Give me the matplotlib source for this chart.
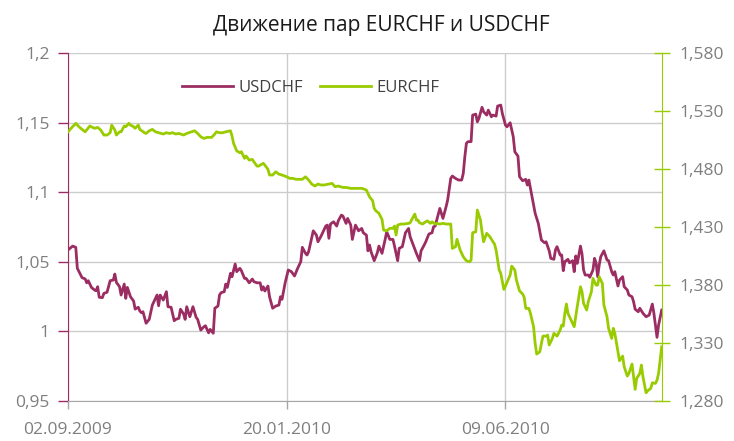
import numpy as np
import pandas as pd
import matplotlib
matplotlib.use("Agg")
import matplotlib.pyplot as plt
import matplotlib.dates as mdates
from matplotlib.ticker import FuncFormatter, FixedLocator

plt.rcParams['font.family'] = ['Open Sans', 'DejaVu Sans']

# Начало ряда и подписи дат на оси X
start_date = "2009-09-02"
end_day = 380
tick_days = [0, 140, 280]

# USDCHF (левая ось): дни от 02.09.2009 и значения
usd_days = [0, 3, 5, 6, 9, 11, 12, 13, 15, 17, 18, 19, 20, 22, 23, 25, 27, 29, 30, 31,
            33, 34, 36, 37, 38, 40, 42, 43, 45, 46, 47, 48, 50, 52, 54, 56, 57, 58, 59, 61,
            63, 64, 66, 68, 69, 71, 72, 74, 75, 76, 78, 80, 82, 83, 85, 87, 88, 90, 91, 93,
            94, 96, 97, 98, 100, 101, 102, 104, 105, 107, 108, 110, 111, 113, 114, 116, 118, 119, 121, 123,
            124, 125, 126, 128, 129, 131, 133, 135, 136, 137, 139, 141, 143, 145, 147, 149, 150, 152, 153, 154,
            157, 159, 160, 162, 165, 166, 167, 168, 170, 172, 173, 175, 176, 178, 179, 181, 182, 184, 186, 188,
            189, 191, 192, 193, 194, 196, 198, 199, 201, 203, 204, 206, 208, 209, 211, 212, 214, 216, 218, 219,
            221, 223, 225, 226, 228, 229, 231, 233, 234, 235, 236, 238, 240, 242, 243, 245, 246, 248, 250, 252,
            253, 254, 255, 256, 258, 259, 261, 262, 263, 265, 266, 268, 269, 271, 272, 274, 275, 277, 278, 280,
            281, 283, 285, 286, 288, 289, 291, 293, 294, 295, 297, 299, 301, 303, 305, 306, 308, 309, 311, 312,
            313, 315, 316, 317, 318, 320, 321, 323, 324, 325, 326, 328, 329, 330, 331, 333, 334, 336, 337, 338,
            339, 340, 341, 343, 345, 346, 348, 349, 350, 352, 353, 355, 356, 358, 359, 361, 362, 363, 365, 366,
            368, 370, 372, 374, 375, 377, 378, 380]
usd_vals = [1.0586, 1.0614, 1.0605, 1.0454, 1.0387, 1.0378, 1.0350, 1.0365, 1.0317, 1.0298,
            1.0293, 1.0322, 1.0246, 1.0243, 1.0274, 1.0282, 1.0365, 1.0370, 1.0413, 1.0353,
            1.0322, 1.0262, 1.0341, 1.0238, 1.0317, 1.0250, 1.0219, 1.0161, 1.0174, 1.0147,
            1.0135, 1.0142, 1.0059, 1.0087, 1.0190, 1.0238, 1.0262, 1.0185, 1.0262, 1.0226,
            1.0286, 1.0178, 1.0174, 1.0077, 1.0087, 1.0095, 1.0160, 1.0126, 1.0087, 1.0178,
            1.0106, 1.0178, 1.0102, 1.0087, 1.0010, 1.0034, 1.0041, 0.9990, 1.0015, 0.9987,
            1.0167, 1.0183, 1.0262, 1.0279, 1.0286, 1.0341, 1.0317, 1.0418, 1.0394, 1.0485,
            1.0430, 1.0454, 1.0437, 1.0382, 1.0382, 1.0350, 1.0377, 1.0358, 1.0350, 1.0350,
            1.0298, 1.0322, 1.0291, 1.0327, 1.0250, 1.0167, 1.0183, 1.0190, 1.0250, 1.0231,
            1.0350, 1.0442, 1.0430, 1.0399, 1.0454, 1.0502, 1.0605, 1.0562, 1.0550, 1.0573,
            1.0724, 1.0693, 1.0645, 1.0686, 1.0758, 1.0765, 1.0670, 1.0772, 1.0789, 1.0758,
            1.0796, 1.0837, 1.0830, 1.0777, 1.0813, 1.0765, 1.0662, 1.0765, 1.0724, 1.0741,
            1.0710, 1.0693, 1.0580, 1.0622, 1.0573, 1.0509, 1.0566, 1.0614, 1.0562, 1.0662,
            1.0717, 1.0662, 1.0662, 1.0614, 1.0509, 1.0598, 1.0610, 1.0710, 1.0741, 1.0681,
            1.0622, 1.0562, 1.0509, 1.0580, 1.0622, 1.0645, 1.0701, 1.0710, 1.0753, 1.0758,
            1.0801, 1.0885, 1.0813, 1.0897, 1.0945, 1.1101, 1.1118, 1.1101, 1.1089, 1.1089,
            1.1137, 1.1257, 1.1353, 1.1365, 1.1365, 1.1556, 1.1563, 1.1508, 1.1532, 1.1612,
            1.1580, 1.1556, 1.1592, 1.1544, 1.1556, 1.1549, 1.1621, 1.1628, 1.1568, 1.1484,
            1.1472, 1.1501, 1.1400, 1.1292, 1.1261, 1.1113, 1.1084, 1.1094, 1.1053, 1.1089,
            1.0969, 1.0850, 1.0778, 1.0658, 1.0638, 1.0645, 1.0580, 1.0526, 1.0519, 1.0586,
            1.0610, 1.0550, 1.0550, 1.0437, 1.0502, 1.0519, 1.0494, 1.0509, 1.0430, 1.0543,
            1.0490, 1.0614, 1.0557, 1.0442, 1.0406, 1.0406, 1.0390, 1.0442, 1.0526, 1.0494,
            1.0394, 1.0478, 1.0538, 1.0580, 1.0514, 1.0509, 1.0430, 1.0406, 1.0430, 1.0327,
            1.0370, 1.0394, 1.0322, 1.0298, 1.0262, 1.0250, 1.0214, 1.0160, 1.0142, 1.0167,
            1.0131, 1.0106, 1.0118, 1.0197, 1.0131, 0.9958, 1.0046, 1.0154]

# EURCHF (правая ось)
eur_days = [0, 2, 5, 7, 9, 11, 14, 17, 19, 21, 23, 25, 27, 28, 30, 31, 33, 34, 36, 37,
            39, 40, 42, 43, 45, 46, 49, 50, 52, 54, 56, 58, 61, 63, 65, 67, 69, 71, 74, 76,
            79, 81, 83, 85, 87, 89, 92, 94, 95, 97, 99, 101, 104, 105, 106, 108, 110, 111, 113, 114,
            116, 118, 119, 121, 122, 125, 126, 128, 129, 131, 133, 135, 137, 140, 142, 144, 146, 149, 150, 152,
            154, 156, 158, 160, 162, 164, 167, 169, 171, 173, 176, 178, 181, 183, 186, 188, 190, 191, 193, 195,
            196, 197, 199, 201, 202, 204, 206, 208, 209, 210, 211, 213, 215, 218, 219, 221, 222, 223, 224, 225,
            227, 228, 230, 232, 233, 235, 236, 238, 240, 242, 245, 246, 248, 249, 251, 253, 255, 257, 258, 259,
            261, 262, 264, 265, 266, 268, 270, 272, 273, 274, 276, 277, 279, 280, 283, 284, 286, 287, 289, 291,
            292, 293, 295, 296, 298, 299, 300, 302, 303, 304, 306, 307, 308, 310, 311, 313, 315, 316, 317, 318,
            319, 320, 322, 324, 326, 328, 329, 330, 332, 333, 335, 336, 338, 339, 340, 342, 343, 345, 346, 348,
            349, 350, 352, 353, 355, 356, 358, 359, 361, 362, 363, 364, 366, 367, 368, 370, 371, 373, 374, 376,
            377, 378, 380]
eur_vals = [1.5123, 1.5153, 1.5196, 1.5167, 1.5144, 1.5123, 1.5173, 1.5153, 1.5161, 1.5138,
            1.5095, 1.5095, 1.5115, 1.5181, 1.5138, 1.5095, 1.5123, 1.5123, 1.5173, 1.5167,
            1.5196, 1.5181, 1.5167, 1.5153, 1.5181, 1.5144, 1.5115, 1.5109, 1.5132, 1.5144,
            1.5123, 1.5115, 1.5104, 1.5115, 1.5109, 1.5115, 1.5104, 1.5109, 1.5095, 1.5109,
            1.5123, 1.5132, 1.5109, 1.5080, 1.5066, 1.5075, 1.5075, 1.5104, 1.5123, 1.5115,
            1.5115, 1.5123, 1.5132, 1.5086, 1.5023, 1.4959, 1.4942, 1.4951, 1.4894, 1.4914,
            1.4879, 1.4885, 1.4864, 1.4827, 1.4827, 1.4851, 1.4836, 1.4799, 1.4750, 1.4750,
            1.4778, 1.4758, 1.4750, 1.4735, 1.4721, 1.4721, 1.4713, 1.4713, 1.4713, 1.4735,
            1.4707, 1.4672, 1.4655, 1.4672, 1.4664, 1.4664, 1.4672, 1.4678, 1.4649, 1.4655,
            1.4643, 1.4643, 1.4635, 1.4635, 1.4635, 1.4635, 1.4626, 1.4620, 1.4562, 1.4528,
            1.4462, 1.4442, 1.4420, 1.4367, 1.4275, 1.4269, 1.4290, 1.4290, 1.4310, 1.4232,
            1.4318, 1.4327, 1.4327, 1.4333, 1.4338, 1.4390, 1.4413, 1.4361, 1.4361, 1.4338,
            1.4327, 1.4338, 1.4355, 1.4333, 1.4347, 1.4327, 1.4333, 1.4327, 1.4333, 1.4327,
            1.4327, 1.4117, 1.4131, 1.4195, 1.4103, 1.4045, 1.4010, 1.4001, 1.4016, 1.4252,
            1.4260, 1.4448, 1.4361, 1.4260, 1.4174, 1.4247, 1.4218, 1.4174, 1.4154, 1.4102,
            1.3930, 1.3901, 1.3763, 1.3792, 1.3887, 1.3964, 1.3930, 1.3844, 1.3751, 1.3723,
            1.3694, 1.3599, 1.3599, 1.3556, 1.3441, 1.3297, 1.3205, 1.3225, 1.3297, 1.3360,
            1.3360, 1.3369, 1.3283, 1.3340, 1.3384, 1.3360, 1.3412, 1.3455, 1.3447, 1.3556,
            1.3637, 1.3556, 1.3498, 1.3441, 1.3619, 1.3786, 1.3743, 1.3642, 1.3585, 1.3656,
            1.3743, 1.3858, 1.3800, 1.3800, 1.3872, 1.3815, 1.3628, 1.3527, 1.3427, 1.3340,
            1.3427, 1.3384, 1.3225, 1.3147, 1.3188, 1.3095, 1.3015, 1.3038, 1.3119, 1.3009,
            1.2900, 1.2995, 1.3038, 1.3110, 1.3009, 1.2871, 1.2888, 1.2909, 1.2957, 1.2952,
            1.2980, 1.3038, 1.3268]

left_ticks = [0.95, 1.0, 1.05, 1.1, 1.15, 1.2]
right_ticks = [1.280, 1.330, 1.380, 1.430, 1.480, 1.530, 1.580]

PURPLE = "#9b2d62"
GREEN = "#99cc00"
GRAY = "#7f7f7f"

t0 = pd.Timestamp(start_date)
usd_dates = t0 + pd.to_timedelta(usd_days, unit="D")
eur_dates = t0 + pd.to_timedelta(eur_days, unit="D")
tick_dates = t0 + pd.to_timedelta(tick_days, unit="D")

fig = plt.figure(figsize=(7.34, 4.41), dpi=100)
ax = fig.add_axes([0.0926, 0.0907, 0.9015 - 0.0926, 0.879 - 0.0907])
ax2 = ax.twinx()

l1, = ax.plot(usd_dates, usd_vals, color=PURPLE, lw=2.0, label="USDCHF", zorder=3)
l2, = ax2.plot(eur_dates, eur_vals, color=GREEN, lw=2.0, label="EURCHF", zorder=3)

ax.set_xlim(t0, t0 + pd.Timedelta(days=end_day))
ax.set_ylim(0.95, 1.2)
ax2.set_ylim(1.28, 1.58)

ax.set_yticks(left_ticks)
ax.yaxis.set_major_formatter(FuncFormatter(lambda v, p: ("%g" % round(v, 2)).replace(".", ",")))
ax2.set_yticks(right_ticks)
ax2.yaxis.set_major_formatter(FuncFormatter(lambda v, p: ("%.3f" % v).replace(".", ",")))

ax.xaxis.set_major_locator(FixedLocator(mdates.date2num(tick_dates)))
ax.xaxis.set_major_formatter(mdates.DateFormatter("%d.%m.%Y"))

ax.grid(True, axis="both", color="#cccccc", lw=1.0)
ax.set_axisbelow(True)

ax.spines["top"].set_visible(False)
ax2.spines["top"].set_visible(False)
ax2.spines["left"].set_visible(False)
ax2.spines["bottom"].set_visible(False)
ax.spines["right"].set_visible(False)
ax.spines["left"].set_color(PURPLE)
ax.spines["bottom"].set_color("#a6a6a6")
ax2.spines["right"].set_color(GREEN)

ax.tick_params(axis="y", colors=PURPLE, length=7, width=1, labelsize=12.5, labelcolor=GRAY, pad=6)
ax.tick_params(axis="x", colors="#a6a6a6", length=6, width=1, labelsize=12.5, labelcolor=GRAY, pad=9)
ax2.tick_params(axis="y", colors=GREEN, direction="inout", length=12, width=1, labelsize=12.5,
                labelcolor=GRAY, pad=7)

fig.suptitle("Движение пар EURCHF и USDCHF", x=0.52, y=0.965, fontsize=15, color="#1a1a1a")
fig.legend(handles=[l1, l2], loc="center", bbox_to_anchor=(0.423, 0.80), ncol=2, frameon=False,
           fontsize=12, handlelength=3.1, columnspacing=1.0, handletextpad=0.3,
           labelcolor="#404040")

fig.savefig("out.png", dpi=100)
